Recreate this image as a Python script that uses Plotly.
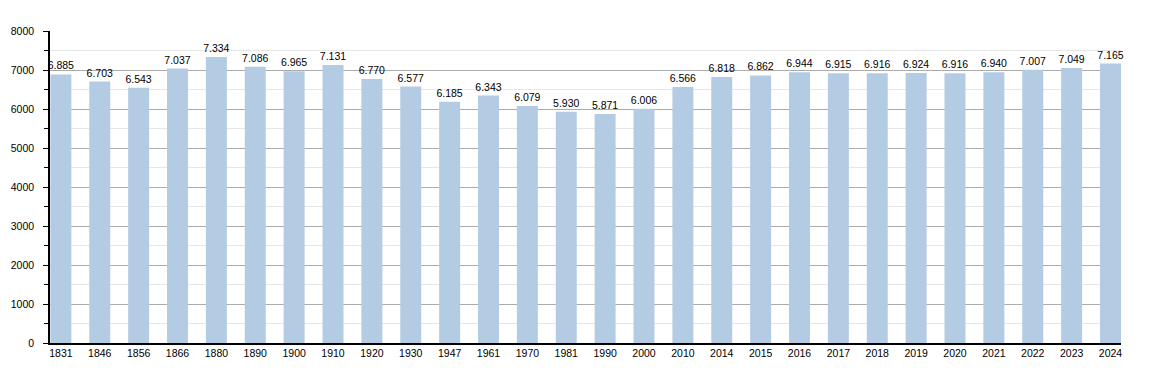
import plotly.graph_objects as go

years = ["1831", "1846", "1856", "1866", "1880", "1890", "1900", "1910", "1920", "1930",
         "1947", "1961", "1970", "1981", "1990", "2000", "2010", "2014", "2015", "2016",
         "2017", "2018", "2019", "2020", "2021", "2022", "2023", "2024"]
population = [6885, 6703, 6543, 7037, 7334, 7086, 6965, 7131, 6770, 6577,
              6185, 6343, 6079, 5930, 5871, 6006, 6566, 6818, 6862, 6944,
              6915, 6916, 6924, 6916, 6940, 7007, 7049, 7165]
labels = [f"{v:,}".replace(",", ".") for v in population]

fig = go.Figure(go.Bar(
    x=years, y=population, text=labels, textposition="outside",
    constraintext="none",
    outsidetextfont=dict(family="Liberation Sans, Arial", size=10.5, color="black"),
    marker=dict(color="#b3cce4", line=dict(width=0)),
    width=0.54, cliponaxis=False, hoverinfo="skip",
))

fig.update_layout(
    width=1150, height=373,
    margin=dict(l=42, r=37, t=23, b=38),
    paper_bgcolor="white", plot_bgcolor="white",
    font=dict(family="Liberation Sans, Arial", size=10, color="black"),
    showlegend=False,
)
fig.update_xaxes(
    type="category", range=[-0.28, 27.27], automargin=False,
    showline=True, linecolor="black", linewidth=1.5,
    ticks="", showgrid=False, tickfont=dict(size=10.5),
)
fig.update_yaxes(
    range=[0, 8000], dtick=1000, showline=True, linecolor="black", linewidth=1.5,
    ticks="outside", ticklen=5, tickcolor="black", ticklabelstandoff=7,
    automargin=False,
    showgrid=True, gridcolor="#ababab", gridwidth=1,
    minor=dict(dtick=500, ticks="outside", ticklen=4, tickcolor="black",
               showgrid=True, gridcolor="#e6e6e6"),
    zeroline=False, tickfont=dict(size=10.5),
)

fig.write_html("out.html")
